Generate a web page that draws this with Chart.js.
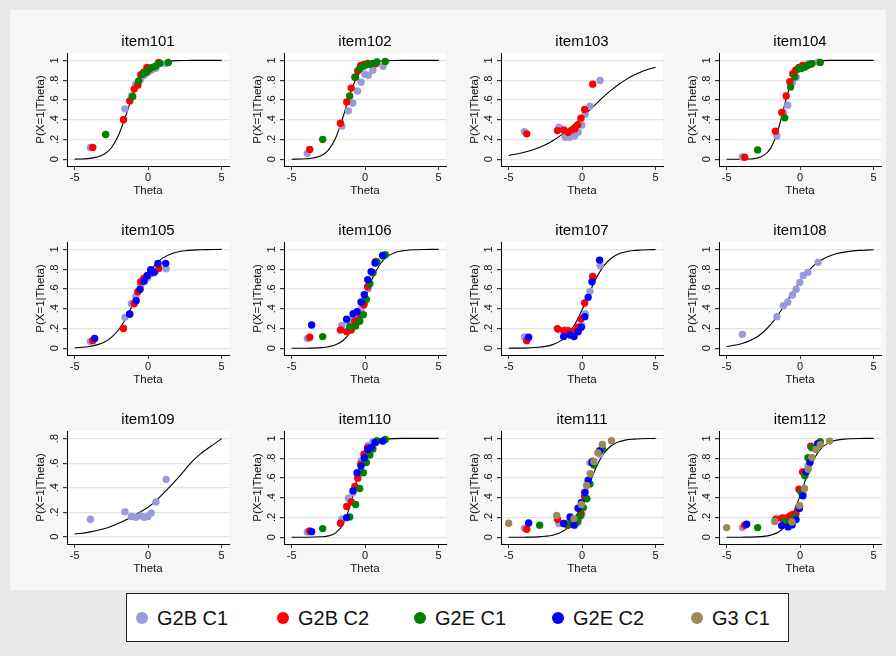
<!DOCTYPE html>
<html>
<head>
<meta charset="utf-8">
<script src="https://cdn.jsdelivr.net/npm/chart.js@4/dist/chart.umd.min.js"></script>
<style>
  html, body { margin: 0; padding: 0; }
  body { width: 896px; height: 656px; background: #e9e9e9; position: relative; overflow: hidden;
         font-family: "Liberation Sans", Arial, sans-serif; }
  #inner { position: absolute; left: 10px; top: 10px; width: 876px; height: 580px; background: #f6f6f6; }
  canvas.panel { position: absolute; }
  #legend { position: absolute; left: 126px; top: 593px; width: 663px; height: 49px;
            background: #fff; border: 1px solid #222; box-sizing: border-box; }
  .lg-dot { position: absolute; width: 12px; height: 12px; border-radius: 50%; top: 18px; }
  .lg-txt { position: absolute; top: 12px; font-size: 20px; line-height: 24px; color: #111; }
</style>
</head>
<body>
<div id="inner"></div>
<div id="legend"></div>
<script>
// ---- data ----
const items = ['item101', 'item102', 'item103', 'item104', 'item105', 'item106',
               'item107', 'item108', 'item109', 'item110', 'item111', 'item112'];
const groups = ['G2B C1', 'G2B C2', 'G2E C1', 'G2E C2', 'G3 C1'];
const groupColors = ['#9999dd', '#ff0000', '#008000', '#0000ff', '#9c8a55'];

// theta of each observed group point (same for every item)
const thetaG2BC1 = [-3.93, -1.58, -1.14, -0.84, -0.52, -0.27, -0.02, 0.21, 0.53, 1.22];
const thetaG2BC2 = [-3.77, -1.68, -1.25, -0.95, -0.70, -0.50, -0.30, -0.08, 0.17, 0.72];
const thetaG2EC1 = [-2.89, -1.05, -0.65, -0.37, -0.12, 0.08, 0.32, 0.53, 0.80, 1.37];
const thetaG2EC2 = [-3.64, -1.26, -0.82, -0.55, -0.28, -0.06, 0.18, 0.41, 0.67, 1.19];
const thetaG3C1  = [-5.00, -1.73, -0.56, -0.05, 0.30, 0.55, 0.80, 1.07, 1.37, 2.00];
const groupThetas = [thetaG2BC1, thetaG2BC2, thetaG2EC1, thetaG2EC2, thetaG3C1];

// theta grid of the fitted curves
const curveTheta = [-5, -4, -3, -2.5, -2, -1.5, -1, -0.5, 0, 0.5, 1, 1.5, 2, 2.5, 3, 3.5, 4, 4.5, 5];

const curve101 = [0.002, 0.009, 0.051, 0.117, 0.248, 0.45, 0.67, 0.835, 0.926, 0.969, 0.987, 0.995, 0.998, 0.999, 1, 1, 1, 1, 1];
const curve102 = [0.001, 0.005, 0.036, 0.093, 0.218, 0.43, 0.673, 0.848, 0.938, 0.976, 0.991, 0.997, 0.999, 1, 1, 1, 1, 1, 1];
const curve103 = [0.039, 0.068, 0.115, 0.148, 0.188, 0.237, 0.293, 0.357, 0.425, 0.497, 0.569, 0.638, 0.702, 0.759, 0.808, 0.85, 0.883, 0.91, 0.931];
const curve104 = [0, 0.001, 0.011, 0.037, 0.113, 0.297, 0.584, 0.823, 0.939, 0.981, 0.994, 0.998, 1, 1, 1, 1, 1, 1, 1];
const curve105 = [0.005, 0.018, 0.062, 0.111, 0.19, 0.307, 0.456, 0.613, 0.749, 0.849, 0.914, 0.952, 0.974, 0.986, 0.993, 0.996, 0.998, 0.999, 1];
const curve106 = [0, 0.001, 0.007, 0.016, 0.036, 0.079, 0.165, 0.312, 0.512, 0.708, 0.848, 0.928, 0.967, 0.985, 0.994, 0.997, 0.999, 1, 1];
const curve107 = [0.001, 0.002, 0.01, 0.019, 0.037, 0.072, 0.136, 0.241, 0.389, 0.562, 0.721, 0.839, 0.913, 0.955, 0.977, 0.989, 0.994, 0.997, 0.999];
const curve108 = [0.018, 0.045, 0.109, 0.165, 0.241, 0.338, 0.45, 0.57, 0.68, 0.774, 0.846, 0.898, 0.934, 0.958, 0.973, 0.983, 0.99, 0.993, 0.996];
const curve109 = [0.022, 0.038, 0.065, 0.085, 0.11, 0.138, 0.17, 0.205, 0.24, 0.29, 0.35, 0.41, 0.475, 0.545, 0.615, 0.67, 0.715, 0.757, 0.80];
const curve110 = [0, 0, 0.005, 0.014, 0.045, 0.132, 0.331, 0.615, 0.838, 0.944, 0.982, 0.994, 0.998, 1, 1, 1, 1, 1, 1];
const curve111 = [0, 0.001, 0.004, 0.01, 0.021, 0.046, 0.096, 0.192, 0.345, 0.54, 0.723, 0.853, 0.928, 0.966, 0.985, 0.993, 0.997, 0.999, 1];
const curve112 = [0, 0.001, 0.004, 0.009, 0.022, 0.05, 0.112, 0.233, 0.422, 0.637, 0.808, 0.91, 0.96, 0.983, 0.993, 0.997, 0.999, 1, 1];
const curves = [curve101, curve102, curve103, curve104, curve105, curve106,
                curve107, curve108, curve109, curve110, curve111, curve112];

// observed proportions per group: [G2B C1, G2B C2, G2E C1, G2E C2, G3 C1]
const obs101 = [[.12, .51, .64, .76, .81, .85, .88, .90, .92, .97],
                [.12, .40, .59, .71, .75, .855, .88, .93, .925, .98],
                [.25, .635, .79, .86, .88, .91, .93, .945, .97, .98], null, null];
const obs102 = [[.06, .335, .49, .57, .69, .78, .86, .85, .90, .94],
                [.10, .365, .58, .72, .83, .895, .95, .96, .97, .965],
                [.20, .64, .83, .915, .94, .955, .96, .97, .985, .99], null, null];
const obs103 = [[.28, .325, .223, .223, .236, .274, .345, .456, .537, .797],
                [.257, .29, .297, .274, .297, .31, .348, .416, .503, .76], null, null, null];
const obs104 = [[.024, .236, .473, .547, .777, .83, .915, .94, .966, .983],
                [.02, .284, .473, .64, .784, .865, .90, .93, .95, .965],
                [.095, .419, .73, .834, .915, .919, .932, .95, .966, .98], null, null];
const obs105 = [[.07, .313, .45, .525, .63, .673, .714, .754, .785, .805],
                [.077, .20, .343, .45, .572, .673, .707, .73, .764, .808], null,
                [.10, .347, .48, .596, .68, .737, .795, .768, .859, .859], null];
const obs106 = [[.10, .232, .276, .30, .33, .40, .465, .603, .764, .933],
                [.111, .185, .168, .185, .273, .28, .333, .441, .623, .879],
                [.118, .219, .226, .273, .34, .495, .653, .764, .872, .946],
                [.236, .293, .35, .37, .468, .542, .694, .774, .862, .939], null];
const obs107 = [[.114, .185, .185, .152, .152, .17, .229, .35, .576, .838],
                [.077, .199, .178, .178, .17, .168, .215, .296, .458, .727], null,
                [.111, .118, .135, .118, .168, .212, .32, .515, .673, .892], null];
const obs108 = [[.141, .32, .431, .468, .539, .596, .667, .737, .768, .869], null, null, null, null];
const obs109 = [[.143, .203, .165, .159, .17, .159, .165, .195, .284, .468], null, null, null, null];
const obs110 = [[.054, .186, .395, .449, .615, .774, .848, .929, .966, .973],
                [.064, .142, .311, .358, .514, .598, .74, .838, .905, .959],
                [.088, .206, .331, .493, .652, .757, .831, .892, .976, .99],
                [.057, .199, .47, .652, .72, .804, .889, .909, .959, .973], null];
const obs111 = [[.091, .139, .139, .159, .118, .15, .23, .459, .753, .841],
                [.081, .182, .14, .122, .159, .15, .172, .24, .412, .77],
                [.122, .132, .145, .155, .216, .30, .389, .54, .73, .895],
                [.145, .139, .206, .125, .294, .35, .453, .578, .757, .875],
                [.142, .22, .189, .331, .524, .642, .764, .855, .939, .976]];
const obs112 = [[.098, .193, .20, .172, .20, .23, .31, .45, .72, .94],
                [.122, .179, .193, .193, .216, .23, .24, .486, .66, .92],
                [.098, .159, .152, .206, .30, .456, .622, .804, .905, .966],
                [.132, .118, .105, .125, .179, .29, .419, .662, .757, .946],
                [.098, .159, .155, .321, .493, .689, .807, .889, .936, .973]];
const observed = [obs101, obs102, obs103, obs104, obs105, obs106,
                  obs107, obs108, obs109, obs110, obs111, obs112];

const xTicks = [-5, 0, 5];
const yTicks = [0, 0.2, 0.4, 0.6, 0.8, 1];
const yTickLabels = ['0', '.2', '.4', '.6', '.8', '1'];
const yTicks109 = [0, 0.2, 0.4, 0.6, 0.8];
const yTickLabels109 = ['0', '.2', '.4', '.6', '.8'];

// ---- layout ----
const FONT = '"Liberation Sans", Arial, sans-serif';
const colLeft = [67, 284, 501, 719];   // plot area left edge
const rowTop = [53, 242, 431];         // plot area top edge
const PLOT_W = 162, PLOT_H = 113;
const PAD_L = 2, YAXIS_W = 33, PAD_R = 4, TOP_H = 24, XAXIS_H = 32, PAD_B = 2;

// white plot region + rotated y tick labels
const panelDecor = {
    id: 'panelDecor',
    beforeDraw(chart) {
        const { ctx, chartArea: a } = chart;
        ctx.save();
        ctx.fillStyle = '#ffffff';
        ctx.fillRect(a.left, a.top, a.right - a.left, a.bottom - a.top);
        ctx.restore();
    },
    afterDraw(chart, args, opts) {
        const { ctx, chartArea: a } = chart;
        const ys = chart.scales.y;
        ctx.save();
        ctx.font = '11px ' + FONT;
        ctx.fillStyle = '#111';
        ctx.textAlign = 'center';
        ctx.textBaseline = 'middle';
        opts.values.forEach((v, i) => {
            const py = ys.getPixelForValue(v);
            ctx.save();
            ctx.translate(a.left - 12.5, py);
            ctx.rotate(-Math.PI / 2);
            ctx.fillText(opts.labels[i], 0, 0);
            ctx.restore();
        });
        ctx.restore();
    }
};

function makePanel(i) {
    const col = i % 4, row = Math.floor(i / 4);
    const canvas = document.createElement('canvas');
    canvas.className = 'panel';
    const w = PAD_L + YAXIS_W + PLOT_W + PAD_R;
    const h = TOP_H + PLOT_H + XAXIS_H + PAD_B;
    canvas.width = w;
    canvas.height = h;
    canvas.style.width = w + 'px';
    canvas.style.height = h + 'px';
    canvas.style.left = (colLeft[col] - PAD_L - YAXIS_W) + 'px';
    canvas.style.top = (rowTop[row] - TOP_H) + 'px';
    document.body.appendChild(canvas);

    const is109 = items[i] === 'item109';
    const yVals = is109 ? yTicks109 : yTicks;
    const yLabs = is109 ? yTickLabels109 : yTickLabels;

    const datasets = [];
    groups.forEach((g, gi) => {
        const ps = observed[i][gi];
        if (!ps) return;
        datasets.push({
            type: 'scatter',
            label: g,
            data: groupThetas[gi].map((t, k) => ({ x: t, y: ps[k] })),
            backgroundColor: groupColors[gi],
            borderWidth: 0,
            pointRadius: 3.7,
            pointHoverRadius: 3.7,
            order: 5 - gi
        });
    });
    datasets.push({
        type: 'line',
        label: 'ICC',
        data: curveTheta.map((t, k) => ({ x: t, y: curves[i][k] })),
        borderColor: '#000',
        borderWidth: 1.1,
        pointRadius: 0,
        fill: false,
        cubicInterpolationMode: 'monotone',
        order: 10
    });

    new Chart(canvas, {
        type: 'scatter',
        data: { datasets },
        plugins: [panelDecor],
        options: {
            responsive: false,
            animation: false,
            events: [],
            layout: { padding: { left: PAD_L, right: PAD_R, top: 0, bottom: PAD_B } },
            plugins: {
                legend: { display: false },
                tooltip: { enabled: false },
                title: {
                    display: true,
                    text: items[i],
                    fullSize: false,
                    color: '#000',
                    font: { family: FONT, size: 15, weight: 'normal', lineHeight: 1.2 },
                    padding: { top: 4, bottom: 2 }
                },
                panelDecor: { values: yVals, labels: yLabs }
            },
            scales: {
                x: {
                    type: 'linear',
                    min: -5.52,
                    max: 5.5,
                    afterBuildTicks: s => { s.ticks = xTicks.map(v => ({ value: v })); },
                    afterFit: s => { s.height = XAXIS_H; },
                    grid: { display: true, drawOnChartArea: false, drawTicks: true, tickLength: 4, tickColor: '#333' },
                    border: { display: true, color: '#000', width: 1 },
                    ticks: { color: '#111', padding: 1, font: { family: FONT, size: 11 } },
                    title: { display: true, text: 'Theta', color: '#111', padding: 0,
                             font: { family: FONT, size: 11.5, lineHeight: 1.2 } }
                },
                y: {
                    type: 'linear',
                    min: is109 ? -0.059 : -0.068,
                    max: is109 ? 0.862 : 1.075,
                    afterBuildTicks: s => { s.ticks = yVals.map(v => ({ value: v })); },
                    afterFit: s => { s.width = YAXIS_W; },
                    grid: { color: '#e3e3e3', lineWidth: 1.2, drawTicks: true, tickLength: 4, tickColor: '#333' },
                    border: { display: true, color: '#000', width: 1 },
                    ticks: { display: false },
                    title: { display: true, text: 'P(X=1|Theta)', color: '#111', padding: 0,
                             font: { family: FONT, size: 11.5, lineHeight: 1.2 } }
                }
            }
        }
    });
}

items.forEach((_, i) => makePanel(i));

// legend
const legendDotX = [9, 150, 287, 425, 564];
const legendTextX = [30, 171, 308, 446, 585];
const legend = document.getElementById('legend');
groups.forEach((g, gi) => {
    const dot = document.createElement('div');
    dot.className = 'lg-dot';
    dot.style.left = legendDotX[gi] + 'px';
    dot.style.background = groupColors[gi];
    legend.appendChild(dot);
    const txt = document.createElement('div');
    txt.className = 'lg-txt';
    txt.style.left = legendTextX[gi] + 'px';
    txt.textContent = g;
    legend.appendChild(txt);
});
</script>
</body>
</html>
